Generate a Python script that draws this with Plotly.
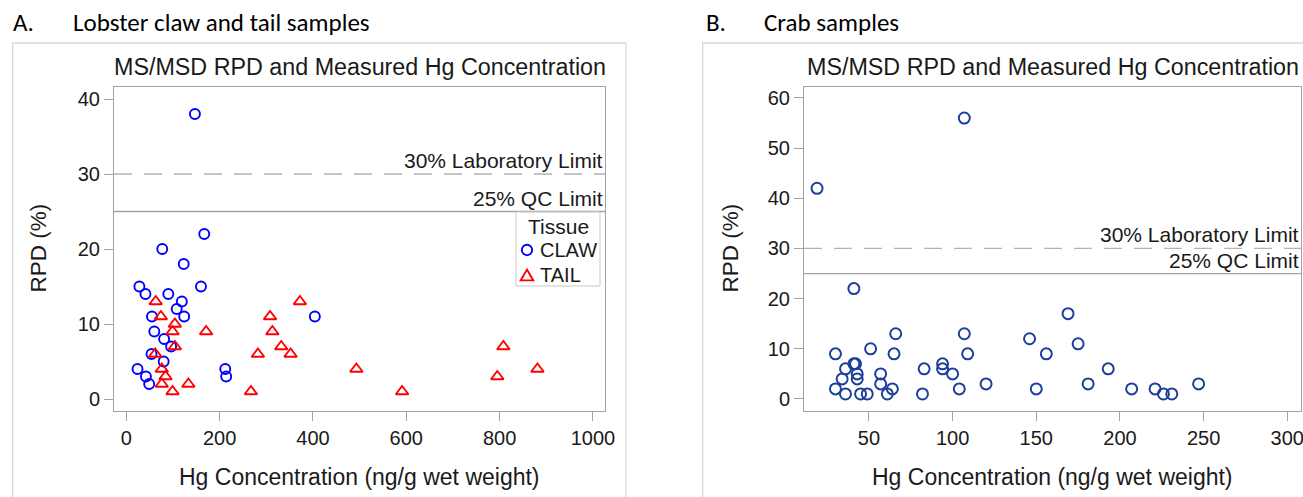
import plotly.graph_objects as go

# ---------------- data ----------------
claw_x = [147, 167, 77, 123, 28, 41, 160, 90, 119, 108, 124, 55, 404, 60, 81, 96, 54, 80, 24, 212, 42, 214, 49]
claw_y = [38, 22, 20, 18, 15, 14, 15, 14, 13, 12, 11, 11, 11, 9, 8, 7, 6, 5, 4, 4, 3, 3, 2]

tail_x = [63, 74, 104, 99, 171, 104, 62, 76, 84, 76, 99, 133, 267, 308, 313, 332, 282, 352, 372, 493, 591, 808, 795, 881]
tail_y = [13, 11, 10, 9, 9, 7, 6, 4, 3, 2, 1, 2, 1, 11, 9, 7, 6, 6, 13, 4, 1, 7, 3, 4]

crab_x = [19, 107, 41, 30, 30, 36, 34, 36, 41, 42, 43, 43, 45, 49, 51, 57, 57, 61, 64, 66, 65,
          82, 83, 94, 94, 100, 104, 107, 109, 120, 146, 156, 150, 169, 175, 181, 193, 207, 221,
          226, 231, 247]
crab_y = [42, 56, 22, 9, 2, 6, 4, 1, 7, 7, 5, 4, 1, 1, 10, 5, 3, 1, 2, 13, 9,
          1, 6, 7, 6, 5, 2, 13, 9, 3, 12, 9, 2, 17, 11, 3, 6, 2, 2,
          1, 1, 3]

left_xticks = [0, 200, 400, 600, 800, 1000]
left_yticks = [0, 10, 20, 30, 40]
right_xticks = [50, 100, 150, 200, 250, 300]
right_yticks = [0, 10, 20, 30, 40, 50, 60]

lab_limit = 30
qc_limit = 25

chart_title = "MS/MSD RPD and Measured Hg Concentration"
x_title = "Hg Concentration (ng/g wet weight)"
y_title = "RPD (%)"
legend_title = "Tissue"
legend_names = ["CLAW", "TAIL"]

# ---------------- layout helpers ----------------
W, H = 1303, 497
def px(x):
    return x / W
def py(y):
    return 1 - y / H

FONT = "Liberation Sans, Arial, sans-serif"
HFONT = "Carlito, Calibri, Lato, sans-serif"
TXT = "#1a1a1a"
FRAME = "#a3a3a3"
CLAW_C = "#0000ff"
TAIL_C = "#ff0000"
CRAB_C = "#1c3f9b"

fig = go.Figure()

fig.add_trace(go.Scatter(
    x=claw_x, y=claw_y, mode="markers", name=legend_names[0],
    marker=dict(symbol="circle-open", size=10, color=CLAW_C, line=dict(width=1.9, color=CLAW_C)),
    xaxis="x", yaxis="y"))
fig.add_trace(go.Scatter(
    x=tail_x, y=tail_y, mode="markers", name=legend_names[1],
    marker=dict(symbol="triangle-up-open", size=11, color=TAIL_C, line=dict(width=1.9, color=TAIL_C)),
    xaxis="x", yaxis="y"))
fig.add_trace(go.Scatter(
    x=crab_x, y=crab_y, mode="markers", name="Crab",
    marker=dict(symbol="circle-open", size=11, color=CRAB_C, line=dict(width=2, color=CRAB_C)),
    xaxis="x2", yaxis="y2"))

y_dom = [py(410.5), py(86.7)]
axis_common = dict(
    showline=True, mirror=True, linecolor=FRAME, linewidth=1,
    ticks="outside", ticklen=9, tickcolor=FRAME, tickwidth=1,
    showgrid=False, zeroline=False, automargin=False,
    ticklabeloverflow="allow",
    tickfont=dict(family=FONT, size=20, color=TXT),
)

fig.update_layout(
    width=W, height=H, autosize=False,
    margin=dict(l=0, r=0, t=0, b=0, pad=0, autoexpand=False),
    paper_bgcolor="white", plot_bgcolor="white",
    xaxis=dict(domain=[px(114), px(605)], range=[-26.4, 1025.8], tickvals=left_xticks,
               anchor="y", **axis_common),
    yaxis=dict(domain=y_dom, range=[-1.53, 41.64], tickvals=left_yticks,
               anchor="x", **axis_common),
    xaxis2=dict(domain=[px(804), px(1301)], range=[11.2, 308.2], tickvals=right_xticks,
                anchor="y2", **axis_common),
    yaxis2=dict(domain=y_dom, range=[-2.3, 62.25], tickvals=right_yticks,
                anchor="x2", **axis_common),
    showlegend=False,
)

shapes = []
annotations = []

# outer panel frames (open at the bottom / right, kept inside the page)
shapes.append(dict(type="path", xref="paper", yref="paper",
                   path=f"M {px(12.7)},0 L {px(12.7)},{py(43)} L {px(626)},{py(43)} L {px(626)},0",
                   line=dict(color="#d9d9d9", width=1.3), layer="below"))
shapes.append(dict(type="path", xref="paper", yref="paper",
                   path=f"M {px(702.7)},0 L {px(702.7)},{py(43)} L 1,{py(43)}",
                   line=dict(color="#d9d9d9", width=1.3), layer="below"))

for xa, ya, xc in [("x", "y", (114 + 605) / 2), ("x2", "y2", (804 + 1301) / 2)]:
    shapes.append(dict(type="line", xref=f"{xa} domain", yref=ya, x0=0, x1=1,
                       y0=lab_limit, y1=lab_limit,
                       line=dict(color="#b3b3b3", width=1.3, dash="18px,12px")))
    shapes.append(dict(type="line", xref=f"{xa} domain", yref=ya, x0=0, x1=1,
                       y0=qc_limit, y1=qc_limit,
                       line=dict(color=FRAME, width=1.3)))
    annotations.append(dict(text="30% Laboratory Limit", xref=f"{xa} domain", yref=ya,
                            x=1, y=lab_limit, xanchor="right", yanchor="bottom",
                            showarrow=False, font=dict(family=FONT, size=21, color=TXT)))
    annotations.append(dict(text="25% QC Limit", xref=f"{xa} domain", yref=ya,
                            x=1, y=qc_limit, xanchor="right", yanchor="bottom",
                            showarrow=False, font=dict(family=FONT, size=21, color=TXT)))
    annotations.append(dict(text=chart_title, xref="paper", yref="paper",
                            x=px(xc), y=py(66.5), xanchor="center", yanchor="middle",
                            showarrow=False, font=dict(family=FONT, size=23.3, color=TXT)))
    annotations.append(dict(text=x_title, xref="paper", yref="paper",
                            x=px(xc), y=py(477), xanchor="center", yanchor="middle",
                            showarrow=False, font=dict(family=FONT, size=23, color=TXT)))

for xpos in [38, 730]:
    annotations.append(dict(text=y_title, xref="paper", yref="paper", textangle=-90,
                            x=px(xpos), y=py(248.5), xanchor="center", yanchor="middle",
                            showarrow=False, font=dict(family=FONT, size=22.5, color=TXT)))

# legend box for the lobster panel (drawn by hand to match the compact layout)
shapes.append(dict(type="rect", xref="paper", yref="paper",
                   x0=px(516), x1=px(600), y0=py(286), y1=py(212),
                   line=dict(color="#c8c8c8", width=1), fillcolor="white"))
annotations.append(dict(text=legend_title, xref="paper", yref="paper",
                        x=px(558), y=py(226), xanchor="center", yanchor="middle",
                        showarrow=False, font=dict(family=FONT, size=21, color=TXT)))
r = 5.2
shapes.append(dict(type="circle", xref="paper", yref="paper",
                   x0=px(527 - r), x1=px(527 + r), y0=py(250 + r), y1=py(250 - r),
                   line=dict(color=CLAW_C, width=1.9)))
tw, th = 6.3, 5.4
shapes.append(dict(type="path", xref="paper", yref="paper",
                   path=(f"M {px(527 - tw)},{py(275 + th)} L {px(527 + tw)},{py(275 + th)} "
                         f"L {px(527)},{py(275 - th)} Z"),
                   line=dict(color=TAIL_C, width=1.9)))
for name, yy in zip(legend_names, [250, 275]):
    annotations.append(dict(text=name, xref="paper", yref="paper",
                            x=px(538), y=py(yy), xanchor="left", yanchor="middle",
                            showarrow=False, font=dict(family=FONT, size=20, color=TXT)))

# panel headers
for txt, xpos in [("A.", 11), ("Lobster claw and tail samples", 71),
                  ("B.", 704), ("Crab samples", 762)]:
    annotations.append(dict(text=txt, xref="paper", yref="paper",
                            x=px(xpos), y=py(22.5), xanchor="left", yanchor="middle",
                            showarrow=False, font=dict(family=HFONT, size=25, color="black")))

fig.update_layout(shapes=shapes, annotations=annotations)

fig.write_html("out.html", config={"responsive": False})
